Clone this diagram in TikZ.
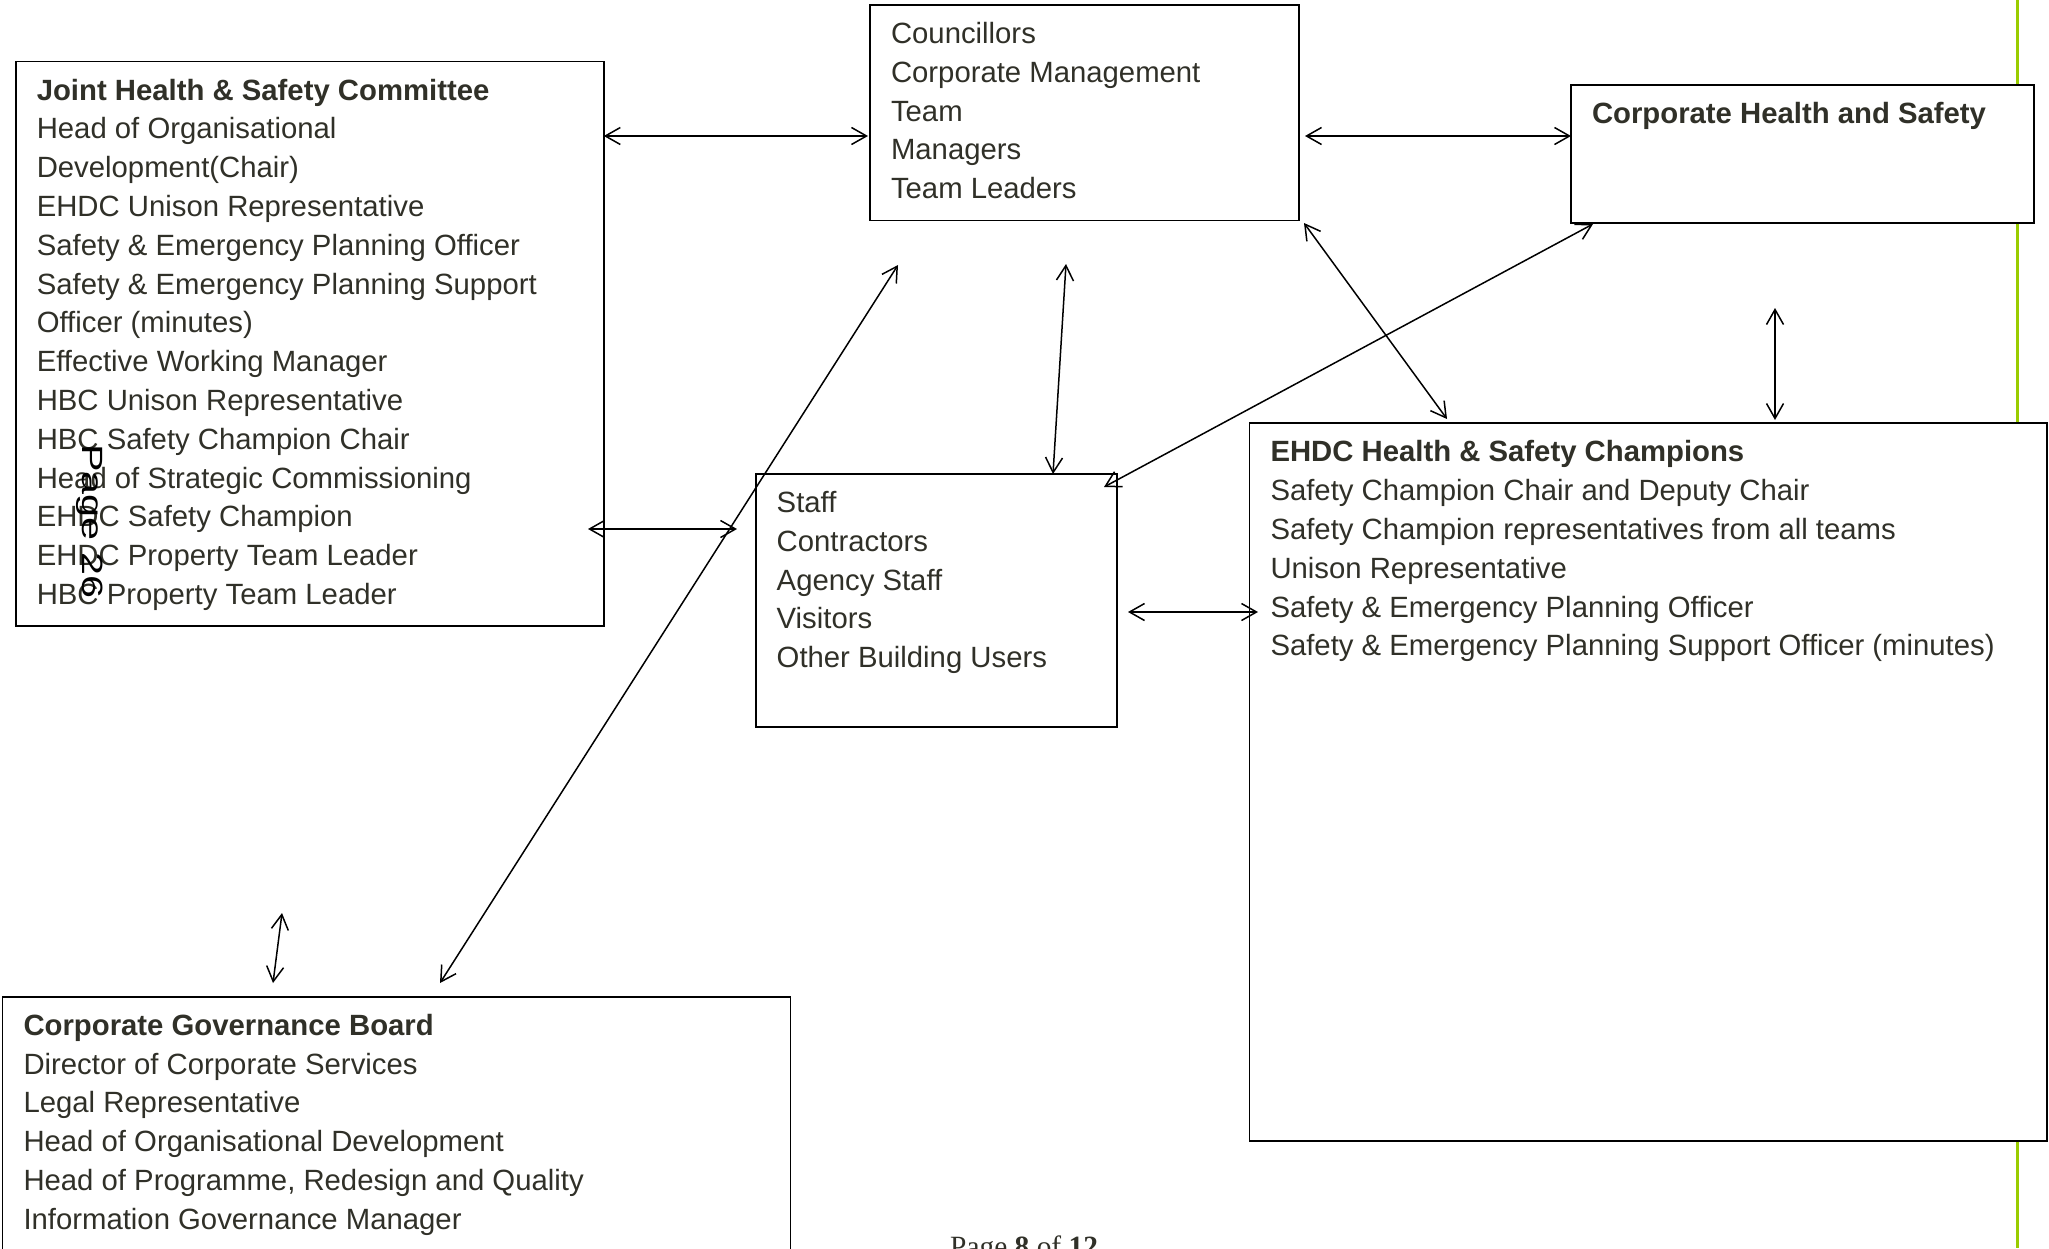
\documentclass[tikz,border=0pt]{standalone}
\usepackage{fontspec}
\setmainfont{Liberation Sans}
\newfontfamily\serifpage{Liberation Serif}
\usetikzlibrary{arrows.meta,calc}
\definecolor{ink}{RGB}{48,48,40}
\definecolor{pagegreen}{RGB}{153,204,0}
\tikzset{
  boxnode/.style={draw=black, line width=1.8pt, fill=white, inner sep=0pt, outer sep=0pt, anchor=north west},
  txt/.style={anchor=base west, inner sep=0pt, outer sep=0pt, align=left, text=ink, font=\fontsize{29.3}{38.8}\selectfont},
  link/.style={draw=black, line width=1.5pt, {Straight Barb[length=15pt,width=17pt]}-{Straight Barb[length=15pt,width=17pt]}},
}
\begin{document}
\begin{tikzpicture}[x=1pt,y=-1pt]
\useasboundingbox (0,0) rectangle (2049,1248);
\fill[white] (0,0) rectangle (2049,1248);
\draw[pagegreen, line width=3pt] (2017.5,0) -- (2017.5,1248);

% boxes
\node[boxnode, minimum width=588pt, minimum height=564.5pt] (jhsc) at (15.8,61.5) {};
\node[boxnode, minimum width=429pt, minimum height=215.5pt] (cl) at (870,5) {};
\node[boxnode, minimum width=463pt, minimum height=137.7pt] (chs) at (1571,85) {};
\node[boxnode, minimum width=361pt, minimum height=252.7pt] (staff) at (755.7,474) {};
\node[boxnode, minimum width=797.5pt, minimum height=717.7pt] (ehdc) at (1249.5,423.3) {};
\node[boxnode, minimum width=788pt, minimum height=320pt] (cgb) at (2.5,996.7) {};

% texts (anchored at the baseline of the last line)
\node[txt] (jhscT) at ($(jhsc.north west)+(21,542.9)$) {\textbf{Joint Health \& Safety Committee}\\Head of Organisational\\Development(Chair)\\EHDC Unison Representative\\Safety \& Emergency Planning Officer\\Safety \& Emergency Planning Support\\Officer (minutes)\\Effective Working Manager\\HBC Unison Representative\\HBC Safety Champion Chair\\Head of Strategic Commissioning\\EHDC Safety Champion\\EHDC Property Team Leader\\HBC Property Team Leader};
\node[txt] (clT) at ($(cl.north west)+(21,193.7)$) {Councillors\\Corporate Management\\Team\\Managers\\Team Leaders};
\node[txt] (chsT) at ($(chs.north west)+(21,38.5)$) {\textbf{Corporate Health and Safety}};
\node[txt] (staffT) at ($(staff.north west)+(21,193.7)$) {Staff\\Contractors\\Agency Staff\\Visitors\\Other Building Users};
\node[txt] (ehdcT) at ($(ehdc.north west)+(21,232.5)$) {\textbf{EHDC Health \& Safety Champions}\\Safety Champion Chair and Deputy Chair\\Safety Champion representatives from all teams\\Unison Representative\\Safety \& Emergency Planning Officer\\Safety \& Emergency Planning Support Officer (minutes)};
\node[txt] (cgbT) at ($(cgb.north west)+(21,232.5)$) {\textbf{Corporate Governance Board}\\Director of Corporate Services\\Legal Representative\\Head of Organisational Development\\Head of Programme, Redesign and Quality\\Information Governance Manager};

% page marks
\node[anchor=base west, rotate=-90, inner sep=0pt, text=black, font=\fontsize{29.3}{32}\selectfont] (pg26) at (82,444) {\scalebox{1.41}[1]{Page 26}};
\node[anchor=base west, inner sep=0pt, text=ink, font=\serifpage\fontsize{29.4}{32}\selectfont] (pg8) at (950,1256) {Page \textbf{8} of \textbf{12}};

% connectors
\draw[link] ($(jhsc.north east)+(0,74.5)$) -- ($(cl.north west)+(-2,131)$);
\draw[link] ($(cl.north east)+(6,131)$) -- ($(chs.north west)+(0,51)$);
\draw[link] ($(cl.south)+(-18.5,43.5)$) -- ($(staff.north west)+(297.3,0)$);
\draw[link] ($(cl.south west)+(28,44.5)$) -- ($(cgb.north west)+(437.5,-13.7)$);
\draw[link] ($(cl.south east)+(5,2.5)$) -- ($(ehdc.north west)+(197.5,-4.3)$);
\draw[link] ($(chs.south west)+(22,1.3)$) -- ($(staff.north east)+(-12.7,13)$);
\draw[link] ($(chs.south west)+(204,85.3)$) -- ($(ehdc.north west)+(525.5,-3.3)$);
\draw[link] ($(jhsc.north east)+(-15.8,467.5)$) -- ($(staff.north west)+(-18.7,55)$);
\draw[link] ($(staff.north east)+(11.3,138)$) -- ($(ehdc.north west)+(8.5,188.7)$);
\draw[link] ($(cgb.north west)+(279.5,-83.7)$) -- ($(cgb.north west)+(270.5,-13.7)$);
\end{tikzpicture}
\end{document}
